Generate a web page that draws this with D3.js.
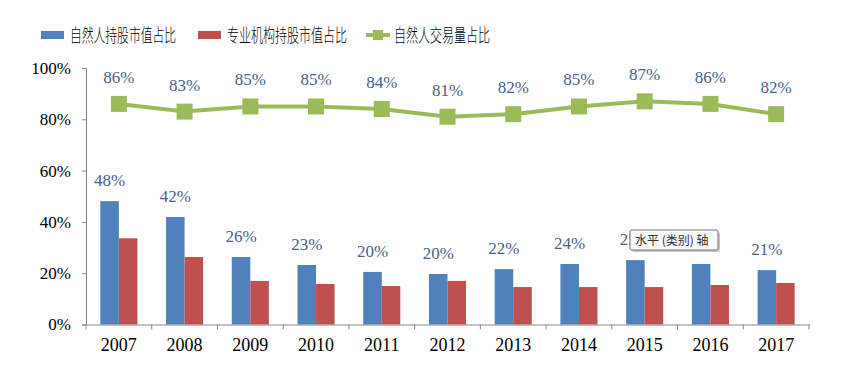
<!DOCTYPE html>
<html>
<head>
<meta charset="utf-8">
<script src="https://cdn.jsdelivr.net/npm/d3@7"></script>
<style>
body { margin: 0; background: #fff; }
</style>
</head>
<body>
<script>
var years = ["2007", "2008", "2009", "2010", "2011", "2012", "2013", "2014", "2015", "2016", "2017"];
var personHold = [48.1, 41.9, 26.3, 23.2, 20.5, 19.7, 21.6, 23.6, 25.1, 23.6, 21.2]; //自然人持股市值占比
var instHold = [33.6, 26.3, 17.0, 15.8, 15.0, 17.0, 14.6, 14.6, 14.6, 15.4, 16.2]; //专业机构持股市值占比
var personTrade = [86, 83, 85, 85, 84, 81, 82, 85, 87, 86, 82]; //自然人交易量占比
var personLabels = ["48%", "42%", "26%", "23%", "20%", "20%", "22%", "24%", "25%", "24%", "21%"];
var yTicks = [0, 20, 40, 60, 80, 100];
var seriesNames = ["自然人持股市值占比", "专业机构持股市值占比", "自然人交易量占比"];
var colors = ["#4F81BD", "#C0504D", "#9BBB59"];

var W = 849, H = 367;
var margin = {left: 86, right: 40, top: 68, bottom: 42.5};

var svg = d3.select("body").append("svg")
	.attr("width", W)
	.attr("height", H);

var x = d3.scaleBand()
	.domain(years)
	.range([margin.left, W - margin.right]);

var y = d3.scaleLinear()
	.domain([0, 100])
	.range([H - margin.bottom, margin.top]);

var serif = "'Liberation Serif', 'Times New Roman', serif";
var labelColor = "#4A5F8A";
var axisColor = "#868686";

// y axis
var yAxis = svg.append("g")
	.attr("transform", "translate(" + margin.left + ",0)")
	.call(d3.axisLeft(y).tickValues(yTicks).tickSize(4).tickFormat(function (d) {return d + "%";}));
yAxis.select(".domain").attr("stroke", axisColor);
yAxis.selectAll(".tick line").attr("stroke", axisColor);
yAxis.selectAll("text")
	.attr("x", -15)
	.style("font-family", serif)
	.style("font-size", "17px")
	.attr("fill", "#000");

// x axis
var xAxis = svg.append("g")
	.attr("transform", "translate(0," + y(0) + ")")
	.call(d3.axisBottom(x).tickSize(0).tickPadding(14));
xAxis.select(".domain").attr("stroke", axisColor);
xAxis.selectAll("text")
	.style("font-family", serif)
	.style("font-size", "18px")
	.attr("fill", "#000");
// category boundary ticks
svg.selectAll(".bound")
	.data(years.concat(["end"]))
	.enter()
	.append("line")
	.attr("x1", function (d, i) {return margin.left + i * x.step();})
	.attr("x2", function (d, i) {return margin.left + i * x.step();})
	.attr("y1", y(0))
	.attr("y2", y(0) + 5)
	.attr("stroke", axisColor);

var bw = x.bandwidth() * 0.282;

// bars
svg.selectAll(".barA")
	.data(personHold)
	.enter()
	.append("rect")
	.attr("x", function (d, i) {return x(years[i]) + x.bandwidth() / 2 - bw;})
	.attr("y", function (d) {return y(d);})
	.attr("width", bw)
	.attr("height", function (d) {return y(0) - y(d);})
	.attr("fill", colors[0]);

svg.selectAll(".barB")
	.data(instHold)
	.enter()
	.append("rect")
	.attr("x", function (d, i) {return x(years[i]) + x.bandwidth() / 2;})
	.attr("y", function (d) {return y(d);})
	.attr("width", bw)
	.attr("height", function (d) {return y(0) - y(d);})
	.attr("fill", colors[1]);

// bar labels
svg.selectAll(".labA")
	.data(personHold)
	.enter()
	.append("text")
	.attr("x", function (d, i) {return x(years[i]) + x.bandwidth() / 2 - bw / 2;})
	.attr("y", function (d) {return y(d) - 15;})
	.attr("text-anchor", "middle")
	.style("font-family", serif)
	.style("font-size", "17px")
	.attr("fill", labelColor)
	.text(function (d, i) {return personLabels[i];});

// line
var line = d3.line()
	.x(function (d, i) {return x(years[i]) + x.bandwidth() / 2;})
	.y(function (d) {return y(d);});

svg.append("path")
	.datum(personTrade)
	.attr("d", line)
	.attr("fill", "none")
	.attr("stroke", colors[2])
	.attr("stroke-width", 4);

svg.selectAll(".mark")
	.data(personTrade)
	.enter()
	.append("rect")
	.attr("x", function (d, i) {return x(years[i]) + x.bandwidth() / 2 - 8;})
	.attr("y", function (d) {return y(d) - 8;})
	.attr("width", 16)
	.attr("height", 16)
	.attr("fill", colors[2]);

svg.selectAll(".labL")
	.data(personTrade)
	.enter()
	.append("text")
	.attr("x", function (d, i) {return x(years[i]) + x.bandwidth() / 2;})
	.attr("y", function (d) {return y(d) - 21;})
	.attr("text-anchor", "middle")
	.style("font-family", serif)
	.style("font-size", "17px")
	.attr("fill", labelColor)
	.text(function (d) {return d + "%";});

// legend
var legendX = [41, 198, 366];
var legendTextW = [106, 120, 96];
var legend = svg.selectAll(".leg")
	.data(seriesNames)
	.enter()
	.append("g")
	.attr("transform", function (d, i) {return "translate(" + legendX[i] + ",35)";});

legend.filter(function (d, i) {return i < 2;})
	.append("rect")
	.attr("x", 0)
	.attr("y", -4)
	.attr("width", 23)
	.attr("height", 8)
	.attr("fill", function (d, i) {return colors[i];});

var lineLeg = legend.filter(function (d, i) {return i == 2;});
lineLeg.append("line")
	.attr("x1", 0).attr("x2", 24)
	.attr("y1", 0).attr("y2", 0)
	.attr("stroke", colors[2])
	.attr("stroke-width", 4);
lineLeg.append("rect")
	.attr("x", 7).attr("y", -5)
	.attr("width", 10).attr("height", 10)
	.attr("fill", colors[2]);

legend.append("text")
	.attr("x", function (d, i) {return i == 2 ? 28 : 29;})
	.attr("y", 7)
	.attr("textLength", function (d, i) {return legendTextW[i];})
	.attr("lengthAdjust", "spacingAndGlyphs")
	.style("font-family", "'Noto Sans CJK SC', sans-serif")
	.style("font-size", "18px")
	.style("font-weight", 300)
	.attr("fill", "#000")
	.text(function (d) {return d;});

// tooltip seen in the screenshot
var tip = svg.append("g").attr("transform", "translate(630,230)");
tip.append("rect")
	.attr("x", 2).attr("y", 2)
	.attr("width", 88).attr("height", 20).attr("rx", 2)
	.attr("fill", "#C8C8C8");
tip.append("rect")
	.attr("width", 88).attr("height", 20).attr("rx", 2)
	.attr("fill", "#F8F8FB")
	.attr("stroke", "#76767A");
tip.append("text")
	.attr("x", 5).attr("y", 15)
	.style("font-family", "'Noto Sans CJK SC', sans-serif")
	.style("font-size", "12px")
	.attr("fill", "#333")
	.text("水平 (类别) 轴");
</script>
</body>
</html>
